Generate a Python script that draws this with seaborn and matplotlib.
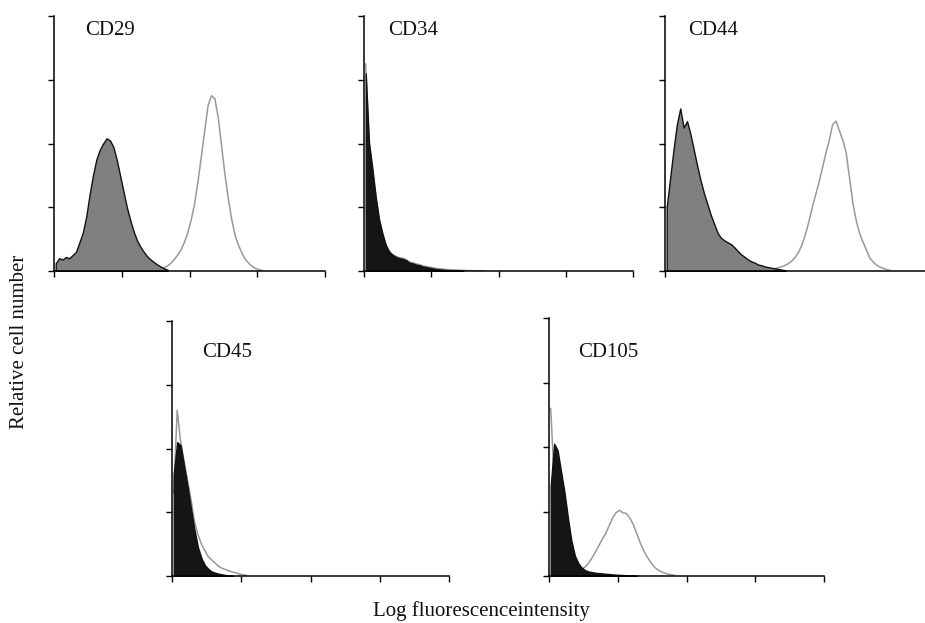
import numpy as np
import pandas as pd
import matplotlib
matplotlib.use("Agg")
import matplotlib.pyplot as plt
import seaborn as sns

sns.set_theme(style="white")
plt.rcParams['font.family'] = ['Liberation Serif', 'DejaVu Serif']

# ---------------- data (log decades 0..4, bin width 0.05) ----------------
BIN = 0.05
panels = ["CD29", "CD34", "CD44", "CD45", "CD105"]

# isotype control (filled) : start (log) and bin heights
cd29_ctrl_start = 0.0
cd29_ctrl = [0.12, 0.2, 0.18, 0.22, 0.2, 0.25, 0.3, 0.45, 0.6, 0.85, 1.2, 1.5, 1.75, 1.9,
             2.0, 2.08, 2.05, 1.95, 1.75, 1.5, 1.25, 1.0, 0.8, 0.62, 0.48, 0.38, 0.3, 0.23,
             0.18, 0.14, 0.1, 0.07, 0.04, 0.02]
cd29_pos_start = 1.55
cd29_pos = [0.02, 0.05, 0.08, 0.12, 0.18, 0.25, 0.33, 0.45, 0.6, 0.8, 1.05, 1.4, 1.8, 2.2,
            2.6, 2.75, 2.7, 2.4, 1.95, 1.5, 1.12, 0.8, 0.55, 0.4, 0.28, 0.18, 0.12, 0.07,
            0.04, 0.02, 0.01]

cd34_ctrl_start = 0.0
cd34_ctrl = [3.1, 2.0, 1.6, 1.15, 0.8, 0.58, 0.4, 0.3, 0.25, 0.22, 0.2, 0.19, 0.17, 0.13,
             0.12, 0.1, 0.09, 0.07, 0.06, 0.05, 0.04, 0.03, 0.025, 0.02, 0.015, 0.012, 0.01,
             0.008, 0.005, 0.003]
cd34_pos_start = 0.0
cd34_pos = [3.25, 2.05, 1.62, 1.18, 0.82, 0.6, 0.42, 0.31, 0.26, 0.23, 0.21, 0.2, 0.18,
            0.14, 0.13, 0.11, 0.1, 0.08, 0.07, 0.06, 0.05, 0.04, 0.035, 0.03, 0.025, 0.02,
            0.018, 0.015, 0.012, 0.01, 0.008, 0.006, 0.005, 0.004, 0.003, 0.002]

cd44_ctrl_start = 0.0
cd44_ctrl = [1.0, 1.45, 1.9, 2.3, 2.55, 2.25, 2.35, 2.15, 1.9, 1.65, 1.42, 1.22, 1.05, 0.88,
             0.74, 0.6, 0.52, 0.48, 0.45, 0.42, 0.37, 0.31, 0.26, 0.22, 0.18, 0.15, 0.13,
             0.1, 0.09, 0.07, 0.06, 0.05, 0.04, 0.03, 0.02, 0.01]
cd44_pos_start = 1.6
cd44_pos = [0.04, 0.05, 0.07, 0.09, 0.12, 0.16, 0.22, 0.3, 0.42, 0.58, 0.78, 1.0, 1.2, 1.4,
            1.62, 1.85, 2.05, 2.3, 2.35, 2.2, 2.05, 1.85, 1.45, 1.05, 0.78, 0.58, 0.45,
            0.32, 0.2, 0.14, 0.09, 0.06, 0.04, 0.02, 0.01]

cd45_ctrl_start = 0.0
cd45_ctrl = [1.6, 2.1, 2.05, 1.72, 1.4, 1.05, 0.72, 0.45, 0.28, 0.17, 0.11, 0.07, 0.05,
             0.035, 0.025, 0.015, 0.01, 0.005]
cd45_pos_start = 0.0
cd45_pos = [1.3, 2.6, 2.1, 1.8, 1.5, 1.2, 0.85, 0.65, 0.5, 0.4, 0.3, 0.25, 0.2, 0.15, 0.12,
            0.1, 0.08, 0.06, 0.05, 0.03, 0.02, 0.01]

cd105_ctrl_start = 0.0
cd105_ctrl = [1.4, 2.05, 1.95, 1.62, 1.3, 0.9, 0.55, 0.32, 0.2, 0.13, 0.09, 0.07, 0.06,
              0.05, 0.045, 0.04, 0.035, 0.03, 0.025, 0.02, 0.018, 0.015, 0.012, 0.01,
              0.008, 0.005]
cd105_pos_start = 0.0
cd105_pos = [2.6, 1.5, 0.6, 0.3, 0.15, 0.1, 0.08, 0.08, 0.09, 0.11, 0.14, 0.2, 0.28, 0.37,
             0.47, 0.57, 0.66, 0.78, 0.9, 0.98, 1.02, 0.98, 0.97, 0.9, 0.8, 0.66, 0.52,
             0.4, 0.3, 0.22, 0.15, 0.1, 0.07, 0.05, 0.03, 0.02, 0.01]

ctrl_colors = ["#808080", "#151515", "#808080", "#151515", "#151515"]

series = {
    "CD29": (cd29_ctrl_start, cd29_ctrl, cd29_pos_start, cd29_pos),
    "CD34": (cd34_ctrl_start, cd34_ctrl, cd34_pos_start, cd34_pos),
    "CD44": (cd44_ctrl_start, cd44_ctrl, cd44_pos_start, cd44_pos),
    "CD45": (cd45_ctrl_start, cd45_ctrl, cd45_pos_start, cd45_pos),
    "CD105": (cd105_ctrl_start, cd105_ctrl, cd105_pos_start, cd105_pos),
}

# ---------------- layout ----------------
W, H = 925, 623
fig = plt.figure(figsize=(W / 100, H / 100), dpi=100)

# (left px, bottom px, width px, height px)
boxes = {
    "CD29": (54, 271, 271, 255),
    "CD34": (364, 271, 269, 255),
    "CD44": (665, 271, 271, 255),
    "CD45": (172, 576, 277, 255),
    "CD105": (549, 576, 275, 258),
}
label_pos = {
    "CD29": (0.46, 3.92),
    "CD34": (0.36, 3.92),
    "CD44": (0.34, 3.92),
    "CD45": (0.43, 3.66),
    "CD105": (0.42, 3.62),
}


def hist(ax, start, vals, **kw):
    vals = np.asarray(vals, dtype=float)
    n = len(vals)
    centers = start + BIN * (np.arange(n) + 0.5)
    df = pd.DataFrame({"x": centers, "w": vals})
    sns.histplot(data=df, x="x", weights="w", bins=n,
                 binrange=(start, start + BIN * n), element="poly", ax=ax, **kw)


for name, col in zip(panels, ctrl_colors):
    l, b, w, h = boxes[name]
    ax = fig.add_axes([l / W, 1 - b / H, w / W, h / H])
    cs, cv, ps, pv = series[name]
    hist(ax, ps, pv, fill=False, color="#999999", linewidth=1.1, zorder=2.0)
    hist(ax, cs, cv, fill=True, color=col, alpha=1.0, edgecolor="#111111",
         linewidth=1.0, zorder=2.2)
    ax.set_xlim(0, 4)
    ax.set_ylim(0, 4)
    ax.set_xlabel("")
    ax.set_ylabel("")
    for s in ("top", "right"):
        ax.spines[s].set_visible(False)
    for s in ("left", "bottom"):
        ax.spines[s].set_color("black")
        ax.spines[s].set_linewidth(1.1)
    ax.set_yticks([0, 1, 2, 3, 4])
    ax.set_xticks([0] if name == "CD44" else [0, 1, 2, 3, 4])
    ax.tick_params(axis="both", which="both", direction="out", length=4, width=1,
                   color="black", labelleft=False, labelbottom=False,
                   left=True, bottom=True)
    ax.patch.set_alpha(0)
    x, y = label_pos[name]
    ax.text(x, y, name, fontsize=15, va="top", ha="left", color="#111111")

fig.text(20 / W, 1 - 342 / H, "Relative cell number", rotation=90, ha="center",
         va="center", fontsize=15, color="#111111")
fig.text(481 / W, 1 - 611 / H, "Log fluorescenceintensity", ha="center", va="center",
         fontsize=15, color="#111111")

fig.savefig("out.png", dpi=100, facecolor="white")
